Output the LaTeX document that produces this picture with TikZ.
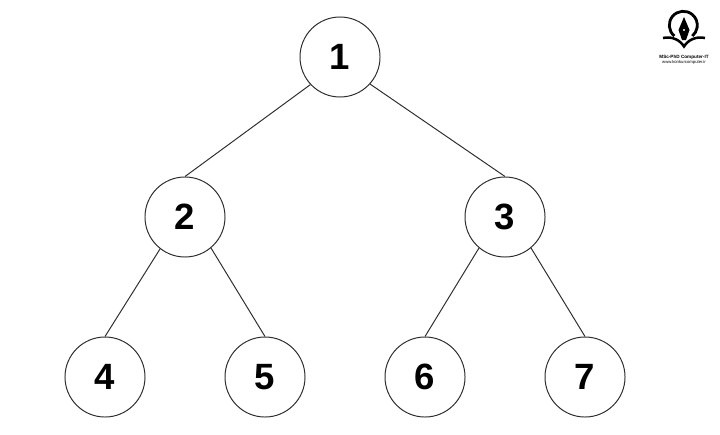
\documentclass[tikz,border=0pt]{standalone}
\usepackage{fontspec}
\setmainfont{Liberation Sans}
\usepackage{xcolor}
\usetikzlibrary{positioning}
\definecolor{treeedge}{HTML}{2E2E2E}
\begin{document}
\begin{tikzpicture}[x=0.025cm,y=-0.025cm,font=\rmfamily]
  \tikzset{treenode/.style={circle,draw=treeedge,line width=0.7pt,fill=white,minimum size=2cm,inner sep=0pt,font=\fontsize{26}{30}\selectfont\bfseries}}
  \useasboundingbox (0,0) rectangle (720,434);
  \node[treenode] (n1) at (340,57) {1};
  \foreach \name/\xx/\yy/\lab in {n2/185/217/2, n3/505/217/3, n4/105/377/4, n5/265/377/5, n6/425/377/6, n7/585/377/7}
  {
    \node[treenode] (\name) at (\xx,\yy) {\lab};
  }
  \draw[treeedge,line width=0.7pt] (n1.-137) -- (n2.north);
  \draw[treeedge,line width=0.7pt] (n1.-42) -- (n3.north);
  \draw[treeedge,line width=0.7pt] (n2.-128) -- (n4.north);
  \draw[treeedge,line width=0.7pt] (n2.-50) -- (n5.north);
  \draw[treeedge,line width=0.7pt] (n3.-130) -- (n6.north);
  \draw[treeedge,line width=0.7pt] (n3.-50) -- (n7.north);
  % logo
  \draw[black,line width=2pt] (674.3,36) arc[start angle=130,end angle=410,radius=14];
  \fill[black] (684,17) -- (689.5,30) -- (686,40) -- (682,40) -- (678.5,30) -- cycle;
  \fill[white] (684,30) circle[radius=1.1];
  \draw[black,line width=1.8pt] (663,38) .. controls (672,36) and (680,40) .. (684,46.5) .. controls (688,40) and (696,36) .. (705,38);
  \node[font=\fontsize{3.3}{4}\selectfont\bfseries,inner sep=0pt] (logotitle) at (684,57) {MSc-PhD Computer-IT};
  \node[font=\fontsize{3}{3}\selectfont,inner sep=0pt,below=0.8pt of logotitle] (logourl) {www.konkurcomputer.ir};
\end{tikzpicture}
\end{document}
